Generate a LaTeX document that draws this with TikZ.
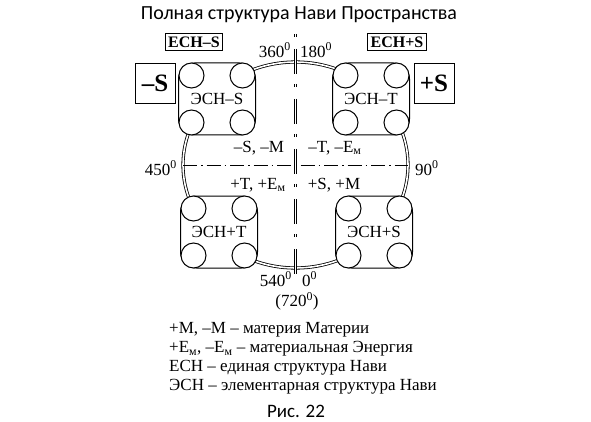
\documentclass[tikz,border=0pt]{standalone}
\usepackage{fontspec}
\setmainfont{Liberation Serif}
\newfontfamily\captionfont{Carlito}
\usetikzlibrary{calc}
\newcommand{\Emat}{E\textsubscript{м}}
\newcommand{\angl}[1]{#1\textsuperscript{0}}

\begin{document}
\begin{tikzpicture}[x=1pt,y=-1pt,
	esn/.style={draw, line width=1pt, fill=white, rounded corners=16pt, minimum width=77pt, minimum height=72pt, font=\fontsize{17}{17}\selectfont},
	knob/.style={draw, line width=1pt, fill=white, circle, minimum size=25pt, inner sep=0pt},
	tag/.style={draw, line width=0.8pt, inner sep=3pt, font=\fontsize{16}{16}\selectfont\bfseries},
	sign/.style={draw, line width=0.8pt, minimum size=40pt, inner sep=0pt, font=\fontsize{25}{25}\selectfont\bfseries},
	txt/.style={font=\fontsize{17}{17}\selectfont, inner sep=0pt}
]
	\useasboundingbox (0,0) rectangle (591,422);

	%title
	\node[font=\captionfont\fontsize{20}{20}\selectfont] (title) at (299,15) {Полная структура Нави Пространства};

	%axis
	\coordinate (o) at (295.5,165);
	\coordinate (n) at (295.5,34);
	\coordinate (s) at (295.5,278);
	\coordinate (w) at (183,165);
	\coordinate (e) at (408,165);

	\draw[line width=0.8pt, double, double distance=1.6pt] (o) ellipse [x radius=112.5pt, y radius=103pt];
	\draw[line width=0.7pt, dash pattern=on 14pt off 4pt on 1.5pt off 4pt] (w) -- (e);
	\draw[line width=0.8pt, double, double distance=1.6pt, dash pattern=on 3pt off 12pt on 25pt off 10pt] (n) -- (s);

	%degrees
	\node[txt, anchor=east] (d360) at (291,50) {\angl{360}};
	\node[txt, anchor=west] (d180) at (300,50) {\angl{180}};
	\node[txt, anchor=east] (d450) at (177,168) {\angl{450}};
	\node[txt, anchor=west] (d90) at (415,168) {\angl{90}};
	\node[txt, anchor=east] (d540) at (292,279) {\angl{540}};
	\node[txt, anchor=west] (d0) at (302,279) {\angl{0}};
	\node[txt] (d720) at (297,301) {(\angl{720})};

	%quadrants
	\node[txt] (qA) at (259,148) {–S, –M};
	\node[txt] (qB) at (335,148) {–T, –\Emat};
	\node[txt] (qC) at (258,185) {+T, +\Emat};
	\node[txt] (qD) at (334,185) {+S, +M};

	%elementary structures
	\node[esn] (esnA) at (217,99) {ЭСН–S};
	\node[esn] (esnB) at (371,99) {ЭСН–T};
	\node[esn] (esnC) at (219,232) {ЭСН+T};
	\node[esn] (esnD) at (374,232) {ЭСН+S};
	\foreach \b in {esnA,esnB,esnC,esnD} {
		\node[knob] (\b-nw) at ($(\b)+(-25.5,-23.5)$) {};
		\node[knob] (\b-ne) at ($(\b)+(25.5,-23.5)$) {};
		\node[knob] (\b-sw) at ($(\b)+(-25.5,23.5)$) {};
		\node[knob] (\b-se) at ($(\b)+(25.5,23.5)$) {};
	}

	%unified structures
	\node[tag] (echA) at (194,42) {ЕСН–S};
	\node[tag] (echB) at (397,42) {ЕСН+S};
	\node[sign] (minus) at (155,83) {–S};
	\node[sign] (plus) at (434,83) {+S};

	%legend
	\node[txt, anchor=west] (leg1) at (169,330) {+M, –M – материя Материи};
	\node[txt, anchor=west] (leg2) at (169,349) {+\Emat, –\Emat{} – материальная Энергия};
	\node[txt, anchor=west] (leg3) at (169,368) {ЕСН – единая структура Нави};
	\node[txt, anchor=west] (leg4) at (169,387) {ЭСН – элементарная структура Нави};
	\node[font=\captionfont\fontsize{19}{19}\selectfont] (fig) at (296,411) {Рис. 22};

\end{tikzpicture}
\end{document}
